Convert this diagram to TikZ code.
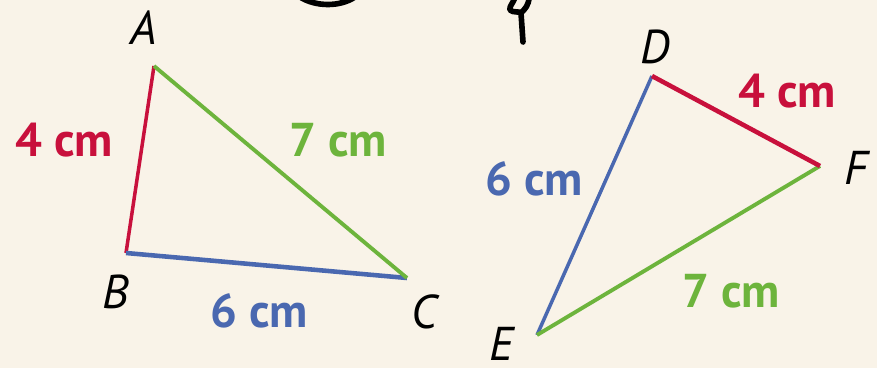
\documentclass[tikz,border=0pt]{standalone}
\usepackage{fontspec}
\setmainfont{PT Sans}
\usepackage{xcolor}
\usetikzlibrary{positioning,calc}
\definecolor{paper}{HTML}{F9F3E8}
\definecolor{sidered}{HTML}{C8103C}
\definecolor{sidegreen}{HTML}{6DB43C}
\definecolor{sideblue}{HTML}{4A68B0}
\tikzset{
  vname/.style   ={inner sep=0pt,font=\fontsize{27}{27}\selectfont\itshape},
  len/.style     ={inner sep=0pt,font=\fontsize{27}{27}\selectfont\bfseries},
  rside/.style   ={draw=sidered,line width=2pt},
  gside/.style   ={draw=sidegreen,line width=2.2pt},
  bside/.style   ={draw=sideblue,line width=2pt},
  scribble/.style={black,line width=3.2pt,line cap=round,line join=round},
}
\begin{document}
\begin{tikzpicture}[x=0.02cm,y=-0.02cm]
  \fill[paper] (0,0) rectangle (877,368);
  \useasboundingbox (0,0) rectangle (877,368);
  % vertices
  \coordinate (A) at (154,66);
  \coordinate (B) at (126,253);
  \coordinate (C) at (407,278);
  \coordinate (D) at (652,76);
  \coordinate (E) at (537,335);
  \coordinate (F) at (820,166);
  % sides
  \draw[rside] (A) -- (B);
  \draw[bside,line width=2.6pt] (B) -- (C);
  \draw[gside] (C) -- (A);
  \draw[bside] (D) -- (E);
  \draw[gside] (E) -- (F);
  \draw[rside,line width=2.6pt] (F) -- (D);
  % vertex names
  \node[vname] (nA) at (144,28) {A};
  \node[vname] (nB) at (116,292) {B};
  \node[vname] (nC) at (424,312) {C};
  \node[vname] (nD) at (655,47) {D};
  \node[vname] (nE) at (502,344) {E};
  \node[vname] (nF) at (856,168) {F};
  % lengths
  \node[len,sidered]   (lAB) at (64,140)  {4 cm};
  \node[len,sidegreen] (lAC) at (338,140) {7 cm};
  \node[len,sideblue]  (lBC) at (259,311) {6 cm};
  \node[len,sideblue]  (lDE) at (534,179) {6 cm};
  \node[len,sidered]   (lDF) at (787,91)  {4 cm};
  \node[len,sidegreen] (lEF) at (731,291) {7 cm};
  % pen marks at the top
  \begin{scope}
    \clip (0,0) rectangle (877,368);
    \draw[scribble] (300,-3) .. controls (316,7) and (340,7) .. (355,-3);
    \draw[scribble] (515,-3) .. controls (513,4) and (509,6) .. (510,10)
      .. controls (513,13) and (519,11) .. (521,13) -- (523,42);
    \draw[scribble] (529,-3) .. controls (529,5) and (525,9) .. (521,13);
  \end{scope}
\end{tikzpicture}
\end{document}
